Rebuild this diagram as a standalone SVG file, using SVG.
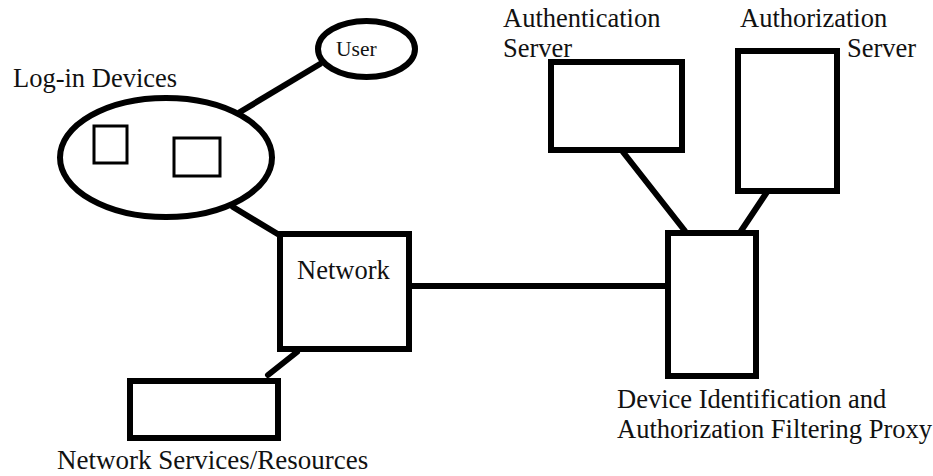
<svg xmlns="http://www.w3.org/2000/svg" width="933" height="476" viewBox="0 0 933 476">
<style>
.s{fill:#fff;stroke:#000;stroke-width:6}
.t{fill:none;stroke:#000;stroke-width:3}
.c{stroke:#000;stroke-width:6;stroke-linecap:round;fill:none}
text{font-family:"Liberation Serif","Times New Roman",serif;font-size:26.5px;fill:#111}
</style>
<rect width="933" height="476" fill="#fff"/>
<g id="connectors">
<line class="c" x1="320" y1="64" x2="240" y2="112"/>
<line class="c" x1="233" y1="207" x2="281" y2="236"/>
<line class="c" x1="409" y1="286" x2="675" y2="286"/>
<line class="c" x1="297" y1="352" x2="268" y2="375"/>
<line class="c" x1="623" y1="152" x2="685" y2="231"/>
<line class="c" x1="767" y1="192" x2="741" y2="231"/>
</g>
<g id="user">
<ellipse class="s" cx="366.5" cy="49" rx="48.5" ry="28"/>
<text x="336" y="56" style="font-size:21.5px">User</text>
</g>
<g id="login-devices">
<ellipse class="s" cx="166" cy="157.5" rx="106" ry="59.5"/>
<rect class="t" x="94" y="126" width="33" height="37"/>
<rect class="t" x="174" y="138" width="46" height="38"/>
<text x="13" y="87">Log-in Devices</text>
</g>
<g id="network">
<rect class="s" x="280" y="234" width="129" height="115"/>
<text x="297" y="279">Network</text>
</g>
<g id="services">
<rect class="s" x="130" y="381" width="148" height="57"/>
<text x="57" y="469" style="font-size:27px">Network Services/Resources</text>
</g>
<g id="auth-server">
<rect class="s" x="551" y="62" width="131" height="88"/>
<text x="503" y="27">Authentication</text>
<text x="503" y="57">Server</text>
</g>
<g id="authz-server">
<rect class="s" x="738" y="51" width="99" height="140"/>
<text x="740" y="27">Authorization</text>
<text x="847" y="57">Server</text>
</g>
<g id="proxy">
<rect class="s" x="668" y="233" width="88" height="143"/>
<text x="617" y="408">Device Identification and</text>
<text x="617" y="438">Authorization Filtering Proxy</text>
</g>
</svg>
